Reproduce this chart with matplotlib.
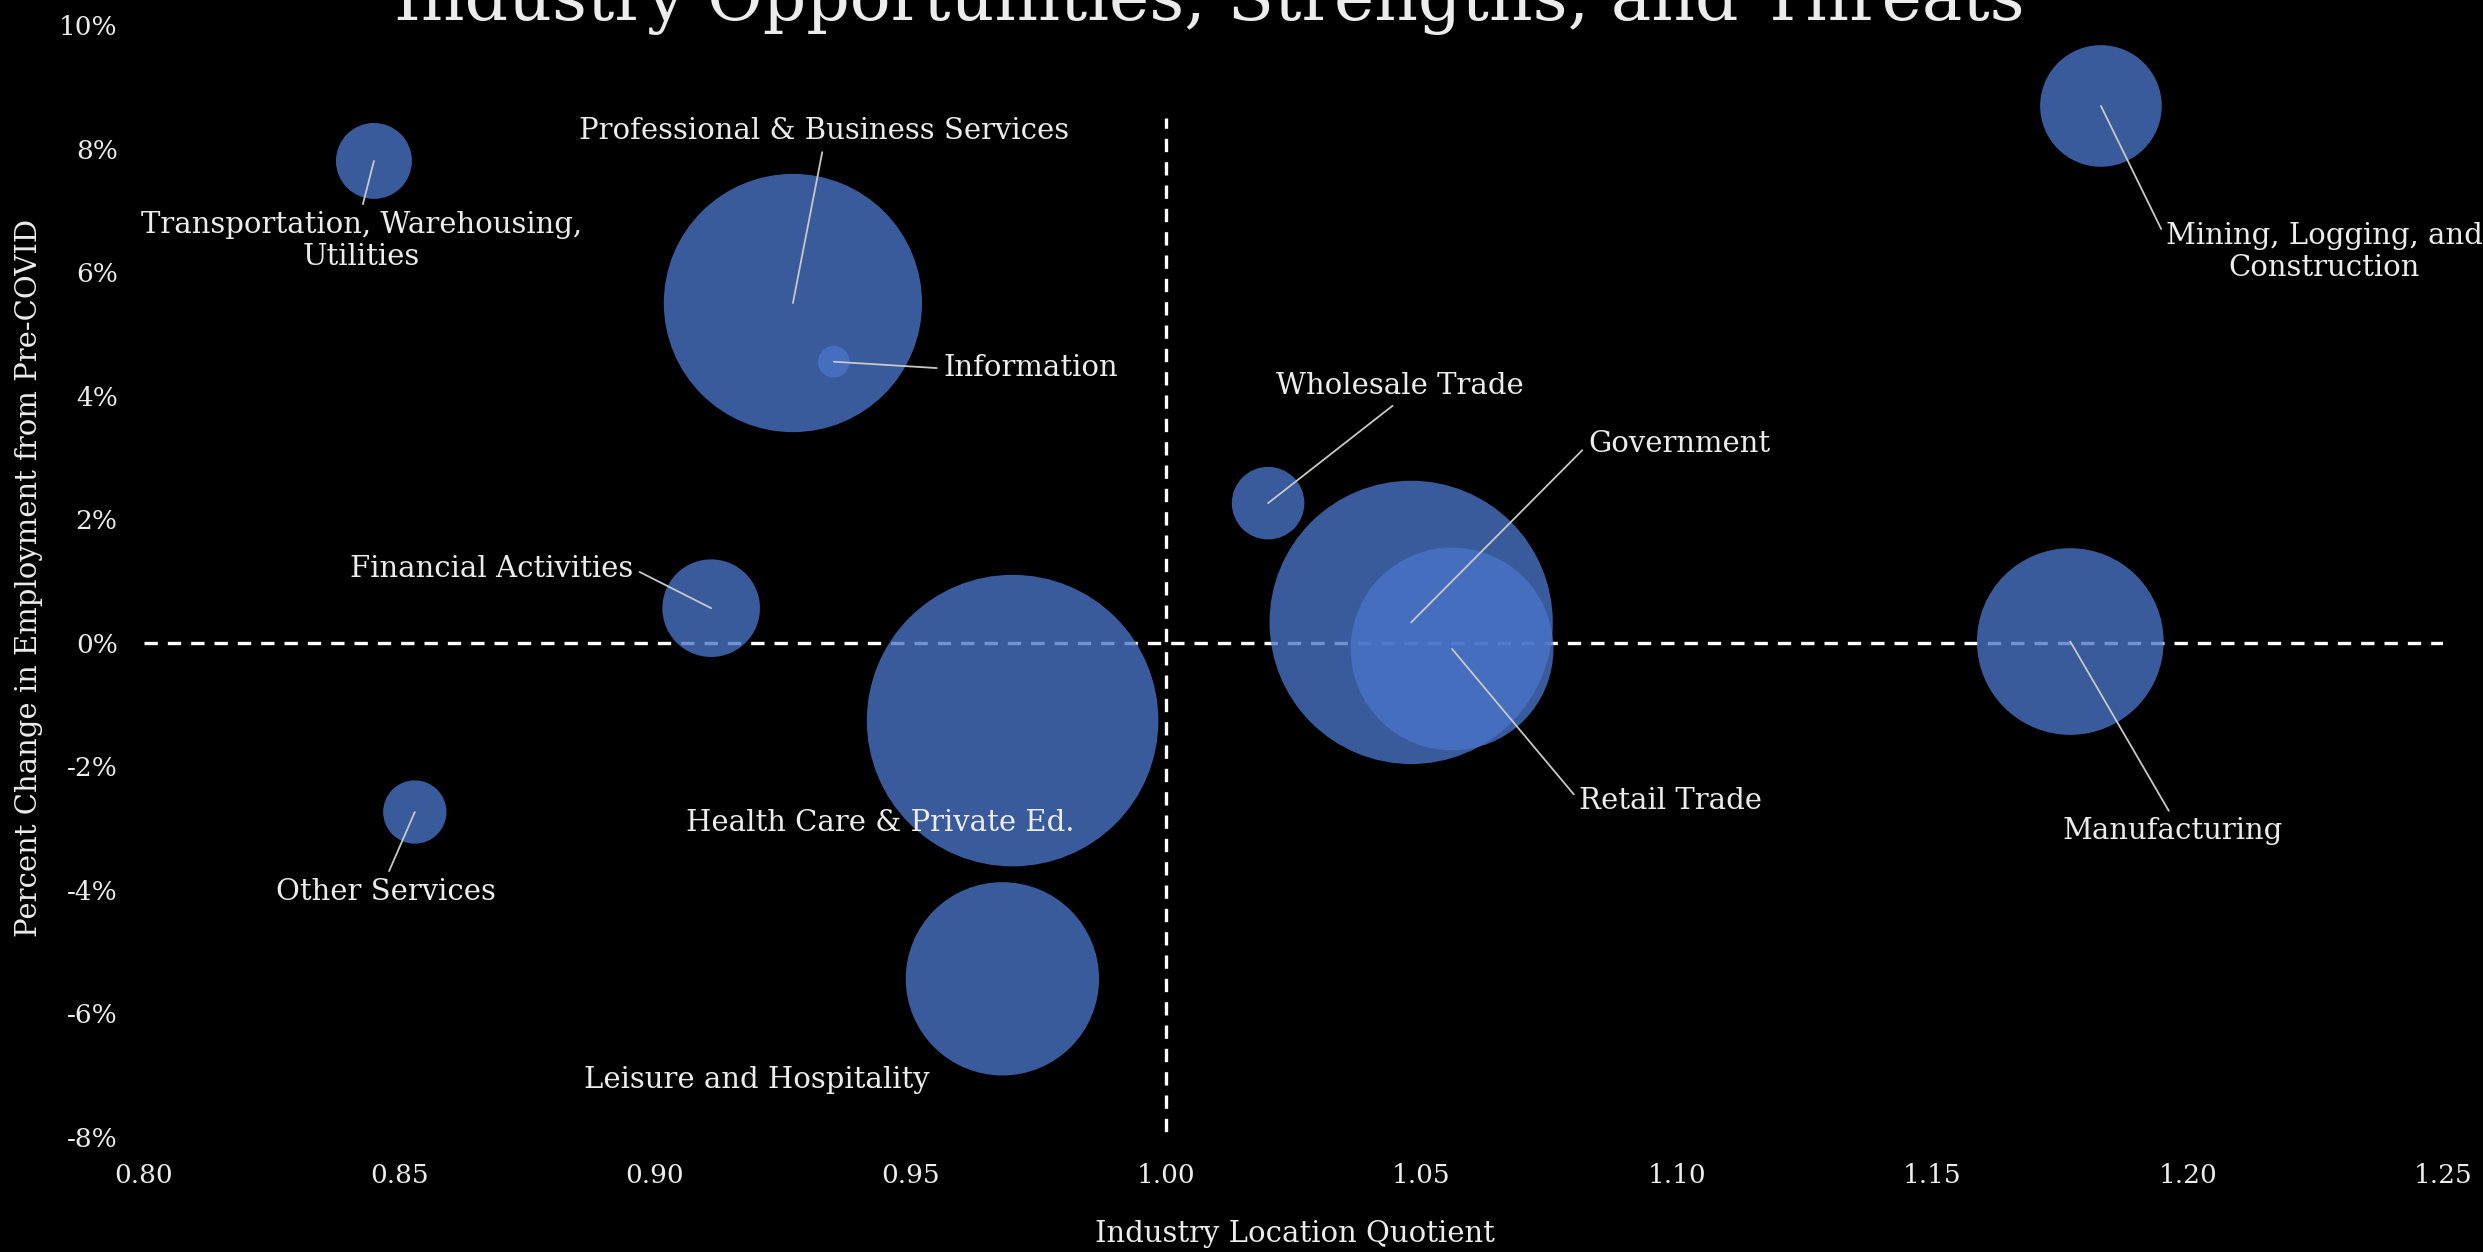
import matplotlib
matplotlib.use("Agg")
import matplotlib.pyplot as plt
import numpy as np

# data
industries = [
    "Transportation, Warehousing,\nUtilities",
    "Professional & Business Services",
    "Information",
    "Financial Activities",
    "Health Care & Private Ed.",
    "Other Services",
    "Leisure and Hospitality",
    "Wholesale Trade",
    "Government",
    "Retail Trade",
    "Manufacturing",
    "Mining, Logging, and\nConstruction",
]
location_quotient = [0.845, 0.927, 0.935, 0.911, 0.970, 0.853, 0.968, 1.020, 1.048, 1.056, 1.177, 1.183]
pct_change = [7.8, 5.5, 4.55, 0.56, -1.26, -2.74, -5.44, 2.26, 0.33, -0.10, 0.02, 8.69]
employment = [23, 266, 4, 38, 339, 16, 149, 21, 320, 164, 139, 59]  # relative bubble size

x_ticks = [0.80, 0.85, 0.90, 0.95, 1.00, 1.05, 1.10, 1.15, 1.20, 1.25]
y_ticks = [-8, -6, -4, -2, 0, 2, 4, 6, 8, 10]

# label placement (layout only): x, y, horizontal alignment, leader line start (None = no line)
label_pos = [
    (0.8425, 6.5, "center", (0.5, 1)),
    (0.933, 8.28, "center", (0.5, 0)),
    (0.9565, 4.44, "left", (0, 0.5)),
    (0.868, 1.2, "center", (1, 0.5)),
    (0.944, -2.92, "center", None),
    (0.8474, -4.03, "center", (0.5, 1)),
    (0.920, -7.08, "center", None),
    (1.0457, 4.15, "center", (0.5, 0)),
    (1.0826, 3.21, "left", (0, 0.5)),
    (1.0809, -2.56, "left", (0, 0.5)),
    (1.197, -3.05, "center", (0.5, 1)),
    (1.1957, 6.33, "left", (0, 0.72)),
]

font = "DejaVu Serif"
txt_color = "#ececec"
bubble_color = "#4A74C8"

fig = plt.figure(figsize=(24.83, 12.52), dpi=100, facecolor="black")
ax = fig.add_axes([0.058, 0.0919, 0.926, 0.8881])
ax.set_facecolor("black")

# quadrant lines
ax.plot([0.80, 1.25], [0, 0], color="white", lw=2.4, dashes=(4, 3), zorder=1)
ax.plot([1.00, 1.00], [-8.3, 8.5], color="white", lw=2.4, dashes=(4, 3), zorder=1)

ax.scatter(location_quotient, pct_change, s=np.array(employment) * 130,
           color=bubble_color, alpha=0.78, linewidths=0, zorder=2)

for name, x, y, (tx, ty, ha, rel) in zip(industries, location_quotient, pct_change, label_pos):
    arrow = None
    if rel is not None:
        arrow = dict(arrowstyle="-", color="#c8c8c8", lw=1.3, shrinkA=3, shrinkB=0, relpos=rel)
    ax.annotate(name, xy=(x, y), xytext=(tx, ty), textcoords="data",
                ha=ha, va="center", multialignment="center",
                fontsize=21, color=txt_color, family=font,
                arrowprops=arrow, zorder=4)

ax.set_xlim(0.80, 1.25)
ax.set_ylim(-8, 10)
ax.set_xticks(x_ticks)
ax.set_xticklabels([f"{v:.2f}" for v in x_ticks])
ax.set_yticks(y_ticks)
ax.set_yticklabels([f"{v}%" for v in y_ticks])
ax.tick_params(length=0, pad=19, labelsize=19, colors=txt_color)
for lbl in ax.get_xticklabels() + ax.get_yticklabels():
    lbl.set_family(font)
for sp in ax.spines.values():
    sp.set_visible(False)

fig.text(0.487, 0.984, "Industry Opportunities, Strengths, and Threats",
         ha="center", va="baseline", fontsize=49, color=txt_color, family=font)
fig.text(0.5216, 0.0145, "Industry Location Quotient", ha="center", va="center",
         fontsize=21, color=txt_color, family=font)
fig.text(0.0115, 0.538, "Percent Change in Employment from Pre-COVID", ha="center",
         va="center", rotation=90, fontsize=21, color=txt_color, family=font)

fig.savefig("out.png", dpi=100, facecolor="black")
